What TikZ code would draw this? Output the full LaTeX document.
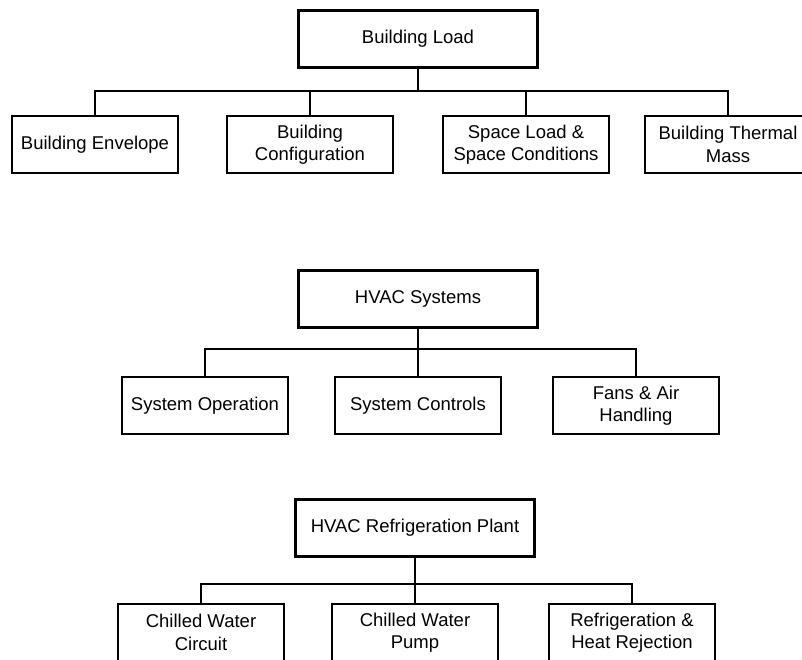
\documentclass[tikz,border=0pt]{standalone}
\usepackage{fontspec}
\setmainfont{Liberation Sans}
\begin{document}
\begin{tikzpicture}[x=1pt,y=-1pt,
  every node/.style={inner sep=0pt,align=center,font=\fontsize{18.5}{22.5}\selectfont},
  topbox/.style={draw,line width=3pt,minimum width=239pt,minimum height=57pt},
  subbox/.style={draw,line width=1.4pt,minimum width=166pt,minimum height=57pt},
  link/.style={line width=1.4pt}]
\useasboundingbox[fill=white] (0,0) rectangle (802,659);
\clip (0,0) rectangle (802,659);

% Building load group
\node[topbox] (p1) at (418,38.5) {Building Load};
\node[subbox] (a1) at (95,144.5) {Building Envelope};
\node[subbox] (a2) at (310,144.5) {Building\\Configuration};
\node[subbox] (a3) at (526,144.5) {Space Load \&\\Space Conditions};
\node[subbox] (a4) at (728,144.5) {Building Thermal\\Mass};
\coordinate (b1) at (418,91);
\draw[link] (p1.south) -- (b1);
\draw[link] (a1.north) -- (a1.north |- b1) -- (a4.north |- b1) -- (a4.north);
\draw[link] (a2.north) -- (a2.north |- b1);
\draw[link] (a3.north) -- (a3.north |- b1);

% HVAC systems group
\node[topbox] (p2) at (418,299) {HVAC Systems};
\node[subbox] (s1) at (205,405.5) {System Operation};
\node[subbox] (s2) at (418,405.5) {System Controls};
\node[subbox] (s3) at (636,405.5) {Fans \& Air\\Handling};
\coordinate (b2) at (418,349);
\draw[link] (p2.south) -- (b2);
\draw[link] (s1.north) -- (s1.north |- b2) -- (s3.north |- b2) -- (s3.north);
\draw[link] (s2.north) -- (s2.north |- b2);

% Refrigeration plant group
\node[topbox] (p3) at (415,527.5) {HVAC Refrigeration Plant};
\node[subbox] (r1) at (201,632.5) {Chilled Water\\Circuit};
\node[subbox] (r2) at (415,632.5) {Chilled Water\\Pump};
\node[subbox] (r3) at (632,632.5) {Refrigeration \&\\Heat Rejection};
\coordinate (b3) at (415,584);
\draw[link] (p3.south) -- (b3);
\draw[link] (r1.north) -- (r1.north |- b3) -- (r3.north |- b3) -- (r3.north);
\draw[link] (r2.north) -- (r2.north |- b3);
\end{tikzpicture}
\end{document}
